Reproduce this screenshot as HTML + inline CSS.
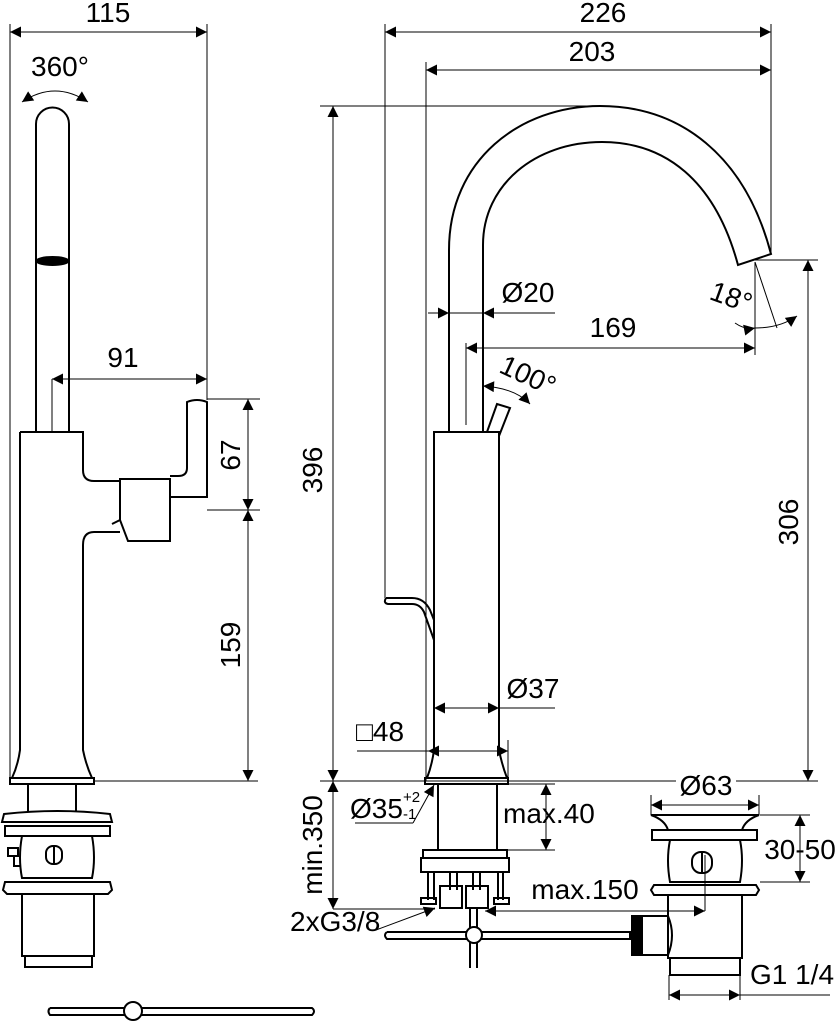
<!DOCTYPE html>
<html><head><meta charset="utf-8"><style>
html,body{margin:0;padding:0;background:#fff}
svg{display:block}
text{font-family:"Liberation Sans",sans-serif;font-size:28px;fill:#000}
</style></head><body>
<svg width="836" height="1024" viewBox="0 0 836 1024" xmlns="http://www.w3.org/2000/svg">
<defs>
<marker id="a" viewBox="0 0 10 10" refX="10" refY="5" markerWidth="20" markerHeight="11" markerUnits="userSpaceOnUse" orient="auto-start-reverse"><path d="M0,0 L10,5 L0,10 Z" fill="#000"/></marker>
</defs>
<g fill="none" stroke="#000" stroke-width="1">
<line x1="10" y1="24" x2="10" y2="781"/>
<line x1="207" y1="24" x2="207" y2="400"/>
<line x1="10" y1="32" x2="207" y2="32" marker-start="url(#a)" marker-end="url(#a)"/>
<path d="M22,102 Q55,80 88,102" marker-start="url(#a)" marker-end="url(#a)"/>
<line x1="52" y1="379" x2="52" y2="432"/>
<line x1="52" y1="379" x2="207" y2="379" marker-start="url(#a)" marker-end="url(#a)"/>
<line x1="207" y1="399" x2="260" y2="399"/>
<line x1="207" y1="510" x2="260" y2="510"/>
<line x1="94" y1="781" x2="258" y2="781"/>
<line x1="248" y1="399" x2="248" y2="510" marker-start="url(#a)" marker-end="url(#a)"/>
<line x1="248" y1="510" x2="248" y2="781" marker-start="url(#a)" marker-end="url(#a)"/>
</g>
<g fill="none" stroke="#000" stroke-width="2">
<path d="M36,432 L36,124 A16.5,16.5 0 0 1 69,124 L69,432"/>
<ellipse cx="52.5" cy="261" rx="16" ry="4" fill="#000"/>
<path d="M20,432 L83,432 L83,470 Q83,481 94,481 L120,481"/>
<path d="M120,532 L94,532 Q83,532 83,545 L83,750 Q86,765 92,778 L12,778 Q18,765 20,750 L20,432"/>
<rect x="10" y="778" width="84" height="6"/>
<path d="M120,479 L170,479 L170,541 L128,541 L120,520 Z"/>
<path d="M120,520 L112,524 M170,497 L207,497 L207,402 Q197,398 187,402 L187,468 Q187,476 178,476 L170,476"/>
<path d="M28,784 L28,812 M76,784 L76,812"/>
<path d="M4,814 Q58,808 110,814 L112,822 L2,822 Z"/>
<rect x="5" y="826" width="105" height="10"/>
<path d="M22,836 Q18,858 22,878 L92,878 Q96,858 92,836"/>
<rect x="46" y="846" width="16" height="18" rx="7"/>
<line x1="54" y1="846" x2="54" y2="864"/>
<path d="M8,848 L18,848 L18,856 L8,856 Z M14,856 L14,866 L20,866"/>
<path d="M5,882 L110,882 L112,890 L108,894 L7,894 L3,890 Z"/>
<rect x="22" y="894" width="72" height="62"/>
<rect x="25" y="956" width="67" height="11"/>
<path d="M50,1008 L312,1008 Q316,1011 312,1015 L50,1015 Q47,1011 50,1008 M140,1008 L300,1008"/>
<circle cx="133" cy="1011" r="9" fill="#fff"/>
</g>
<g fill="none" stroke="#000" stroke-width="1">
<line x1="385" y1="24" x2="385" y2="598"/>
<line x1="771" y1="24" x2="771" y2="252"/>
<line x1="385" y1="32" x2="771" y2="32" marker-start="url(#a)" marker-end="url(#a)"/>
<line x1="426" y1="62" x2="426" y2="781"/>
<line x1="426" y1="70" x2="771" y2="70" marker-start="url(#a)" marker-end="url(#a)"/>
<line x1="320" y1="106" x2="600" y2="106"/>
<line x1="333" y1="106" x2="333" y2="781" marker-start="url(#a)" marker-end="url(#a)"/>
<line x1="755" y1="260" x2="818" y2="260"/>
<line x1="808" y1="260" x2="808" y2="781" marker-start="url(#a)" marker-end="url(#a)"/>
<line x1="428" y1="313" x2="449" y2="313" marker-end="url(#a)"/>
<line x1="555" y1="313" x2="483" y2="313" marker-end="url(#a)"/>
<line x1="449" y1="313" x2="483" y2="313"/>
<line x1="466" y1="343" x2="466" y2="425"/>
<line x1="755" y1="262" x2="755" y2="355"/>
<line x1="755" y1="262" x2="777" y2="328"/>
<line x1="466" y1="348" x2="755" y2="348" marker-start="url(#a)" marker-end="url(#a)"/>
<path d="M483,386 Q515,388 530,404" marker-start="url(#a)" marker-end="url(#a)"/>
<path d="M735,323 Q745,330 755,328" marker-end="url(#a)"/>
<path d="M755,328 Q780,328 797,316" marker-end="url(#a)"/>
<line x1="434" y1="708" x2="499" y2="708" marker-start="url(#a)" marker-end="url(#a)"/>
<line x1="499" y1="708" x2="555" y2="708"/>
<line x1="357" y1="751" x2="508" y2="751"/>
<line x1="428" y1="751" x2="508" y2="751" marker-start="url(#a)" marker-end="url(#a)"/>
<line x1="508" y1="740" x2="508" y2="781"/>
<line x1="320" y1="781" x2="676" y2="781"/>
<line x1="736" y1="781" x2="818" y2="781"/>
<line x1="333" y1="781" x2="333" y2="909" marker-start="url(#a)" marker-end="url(#a)"/>
<line x1="333" y1="909" x2="435" y2="909"/>
<line x1="355" y1="823" x2="413" y2="823"/>
<line x1="413" y1="823" x2="434" y2="785" marker-end="url(#a)"/>
<line x1="497" y1="784" x2="555" y2="784"/>
<line x1="497" y1="850" x2="555" y2="850"/>
<line x1="546" y1="784" x2="546" y2="850" marker-start="url(#a)" marker-end="url(#a)"/>
<line x1="376" y1="930" x2="435" y2="908" marker-end="url(#a)"/>
<line x1="485" y1="911" x2="705" y2="911" marker-start="url(#a)" marker-end="url(#a)"/>
<line x1="705" y1="855" x2="705" y2="911"/>
<line x1="651" y1="795" x2="651" y2="815"/>
<line x1="759" y1="795" x2="759" y2="815"/>
<line x1="651" y1="805" x2="759" y2="805" marker-start="url(#a)" marker-end="url(#a)"/>
<line x1="760" y1="815" x2="810" y2="815"/>
<line x1="760" y1="882" x2="810" y2="882"/>
<line x1="800" y1="815" x2="800" y2="882" marker-start="url(#a)" marker-end="url(#a)"/>
<line x1="669" y1="975" x2="669" y2="1000"/>
<line x1="740" y1="975" x2="740" y2="1000"/>
<line x1="669" y1="995" x2="740" y2="995" marker-start="url(#a)" marker-end="url(#a)"/>
<line x1="740" y1="995" x2="830" y2="995"/>
</g>
<g fill="none" stroke="#000" stroke-width="2">
<path d="M449,432 L449,250 C449,160 520,106 600,106 C680,106 745,155 771,254 L738,265 C715,180 665,142 602,142 C535,142 483,185 483,245 L483,432"/>
<path d="M487,432 L497,404 L510,408 L499,436"/>
<path d="M434,432 L499,432 L499,750 Q502,765 507,778 L427,778 Q432,765 434,750 Z"/>
<rect x="425" y="778" width="83" height="6"/>
<path d="M386,598 Q383,603 388,604 L412,604 Q420,604 424,612 L434,640 M386,598 L412,598 Q424,598 430,610 L434,620"/>
<path d="M438,784 L438,850 M497,784 L497,850"/>
<rect x="423" y="850" width="84" height="8"/>
<rect x="421" y="858" width="88" height="14"/>
<path d="M428,872 L428,900 M434,872 L434,900 M498,872 L498,900 M503,872 L503,900"/>
<rect x="421" y="898" width="15" height="6"/>
<rect x="494" y="898" width="15" height="6"/>
<path d="M450,872 L450,890 M457,872 L457,890 M473,872 L473,890 M480,872 L480,890"/>
<rect x="440" y="886" width="22" height="22"/>
<rect x="466" y="886" width="22" height="22"/>
<path d="M387,932 L630,932 L630,939 L387,939 Q383,935 387,932"/>
<path d="M470,908 L470,968 M477,908 L477,968"/>
<circle cx="474" cy="935" r="8" fill="#fff"/>
<path d="M651,815 L759,815 Q745,820 742,830 L668,830 Q665,820 651,815 Z"/>
<rect x="652" y="830" width="105" height="10"/>
<path d="M670,840 Q666,860 670,882 L740,882 Q744,860 740,840"/>
<rect x="692" y="852" width="20" height="21" rx="9"/>
<line x1="702" y1="852" x2="702" y2="873"/>
<path d="M654,885 L756,885 L759,890 L756,895 L654,895 L651,890 Z"/>
<path d="M668,895 L668,958 L742,958 L742,895"/>
<rect x="632" y="916" width="36" height="39"/>
<rect x="632" y="916" width="10" height="39" fill="#000"/>
<path d="M668,916 Q676,935 668,955"/>
<rect x="670" y="958" width="70" height="17"/>
</g>
<text x="108" y="22" text-anchor="middle">115</text>
<text x="60" y="76" text-anchor="middle">360°</text>
<text x="123" y="367" text-anchor="middle">91</text>
<text transform="translate(240,455) rotate(-90)" text-anchor="middle">67</text>
<text transform="translate(240,645) rotate(-90)" text-anchor="middle">159</text>
<text x="603" y="22" text-anchor="middle">226</text>
<text x="592" y="61" text-anchor="middle">203</text>
<text transform="translate(322,470) rotate(-90)" text-anchor="middle">396</text>
<text transform="translate(798,522) rotate(-90)" text-anchor="middle">306</text>
<text x="528" y="302" text-anchor="middle">Ø20</text>
<text x="613" y="337" text-anchor="middle">169</text>
<text transform="translate(524,384) rotate(25)" text-anchor="middle">100°</text>
<text transform="translate(728,306) rotate(20)" text-anchor="middle">18°</text>
<text x="533" y="698" text-anchor="middle">Ø37</text>
<text x="380" y="741" text-anchor="middle">□48</text>
<text x="706" y="795" text-anchor="middle">Ø63</text>
<text x="350" y="818">Ø35</text>
<text x="403" y="802" style="font-size:15px">+2</text>
<text x="403" y="819" style="font-size:15px">-1</text>
<text x="503" y="823">max.40</text>
<text transform="translate(322,845) rotate(-90)" text-anchor="middle">min.350</text>
<text x="585" y="899" text-anchor="middle">max.150</text>
<text x="290" y="931">2xG3/8</text>
<text x="800" y="859" text-anchor="middle">30-50</text>
<text x="792" y="984" text-anchor="middle">G1 1/4</text>
</svg>
</body></html>
